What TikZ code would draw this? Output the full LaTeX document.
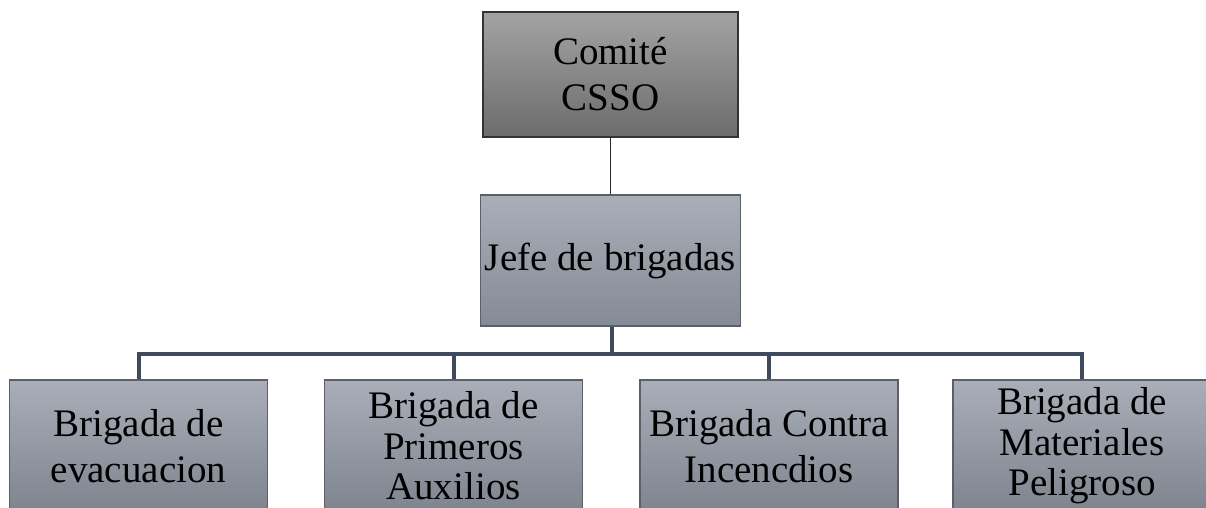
\documentclass[tikz,border=0pt]{standalone}
\usepackage{fontspec}
\setmainfont{Liberation Serif}
\usetikzlibrary{calc}
\definecolor{topA}{HTML}{A3A3A3}
\definecolor{topB}{HTML}{6C6C6C}
\definecolor{boxA}{HTML}{A9AEB8}
\definecolor{boxB}{HTML}{858B96}
\definecolor{busc}{HTML}{3F4A5C}
\definecolor{edgec}{HTML}{5A5F68}
\tikzset{
  basebox/.style={rectangle, inner sep=0pt, align=center, text=black,
     font=\fontsize{39}{46}\selectfont},
  topbox/.style={basebox, draw=black!80, line width=1.4pt,
     top color=topA, bottom color=topB, minimum width=255pt, minimum height=125pt},
  midbox/.style={basebox, draw=edgec, line width=1.2pt,
     top color=boxA, bottom color=boxB, minimum width=260pt, minimum height=131pt},
  leafbox/.style={basebox, draw=edgec, line width=1.2pt,
     top color=boxA, bottom color=boxB!95!black, minimum width=258pt, minimum height=132pt},
  three/.style={font=\fontsize{39}{40.5}\selectfont},
  thinline/.style={draw=black!85, line width=1.3pt},
  busline/.style={draw=busc, line width=4pt},
}
\begin{document}
\begin{tikzpicture}[x=1pt,y=-1pt]
\useasboundingbox (0,0) rectangle (1206,508);
\node[topbox] (top) at (610.5,74.5) {Comité\\CSSO};
\node[midbox] (jefe) at (610.5,260.5) {Jefe de brigadas};
\node[leafbox] (b1) at (138.5,446) {Brigada de\\evacuacion};
\node[leafbox, three] (b2) at (453.5,446) {Brigada de\\Primeros\\Auxilios};
\node[leafbox] (b3) at (769,446) {Brigada Contra\\Incencdios};
\node[leafbox, three] (b4) at (1082,446) {Brigada de\\Materiales\\Peligroso};
\coordinate (bus) at (611.5,353.5);
\draw[thinline] (top.south) -- (jefe.north);
\draw[busline] (jefe.south -| bus) -- (bus);
\draw[busline] (b1.north) |- (bus);
\draw[busline] (b2.north) |- (bus);
\draw[busline] (b3.north) |- (bus);
\draw[busline] (b4.north) |- (bus);
\end{tikzpicture}
\end{document}
